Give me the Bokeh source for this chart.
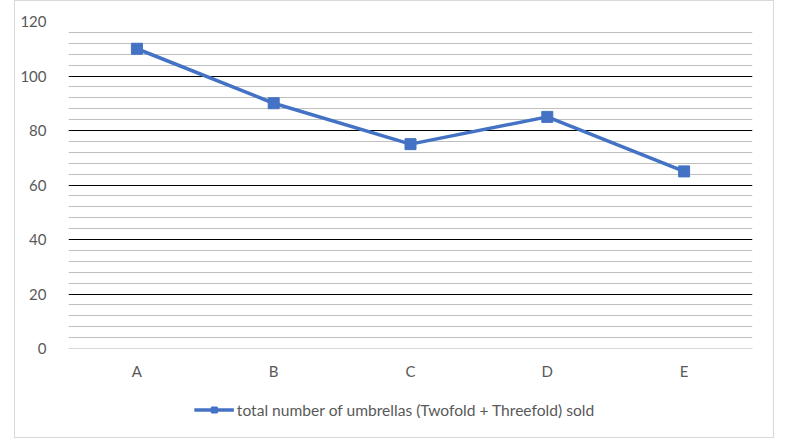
from bokeh.plotting import figure
from bokeh.layouts import column
from bokeh.models import FixedTicker, Range1d, FactorRange, Legend, LegendItem, ColumnDataSource
from bokeh.embed import file_html
from bokeh.resources import INLINE

categories = ["A", "B", "C", "D", "E"]
values = [110, 90, 75, 85, 65]
y_ticks = [0, 20, 40, 60, 80, 100, 120]
series_name = "total number of umbrellas (Twofold + Threefold) sold"

FONT = "Lato"
TXT = "#595959"
BLUE = "#4472C4"

src = ColumnDataSource(dict(x=categories, y=values))

p = figure(frame_width=684, frame_height=327, x_range=FactorRange(*categories), y_range=Range1d(0, 120),
           output_backend="svg", toolbar_location=None,
           min_border_left=53, min_border_right=21, min_border_top=20, min_border_bottom=0)
p.outline_line_color = None

p.line("x", "y", source=src, line_color=BLUE, line_width=3.5)
p.scatter("x", "y", source=src, marker="square", size=11, fill_color=BLUE, line_color=BLUE)

p.yaxis.ticker = FixedTicker(ticks=y_ticks)
p.yaxis.axis_line_color = None
p.yaxis.major_tick_line_color = None
p.yaxis.minor_tick_line_color = None
p.yaxis.major_label_standoff = 16
p.yaxis.major_label_text_font = FONT
p.yaxis.major_label_text_font_size = "15px"
p.yaxis.major_label_text_color = TXT

p.xaxis.axis_line_color = "#d9d9d9"
p.xaxis.major_tick_line_color = None
p.xaxis.minor_tick_line_color = None
p.xaxis.major_label_standoff = 7
p.xaxis.major_label_text_font = FONT
p.xaxis.major_label_text_font_size = "15px"
p.xaxis.major_label_text_color = TXT

p.xgrid.grid_line_color = None
minor = [v for v in range(4, 120, 4) if v % 20 != 0]
p.ygrid.ticker = FixedTicker(ticks=y_ticks[1:], minor_ticks=minor)
p.ygrid.grid_line_color = "#000000"
p.ygrid.grid_line_width = 1
p.ygrid.minor_grid_line_color = "#bfbfbf"
p.ygrid.minor_grid_line_width = 1

# legend strip: same series drawn outside its visible range, only its legend shows
p2 = figure(frame_width=758, frame_height=55, x_range=FactorRange(*categories), y_range=Range1d(1000, 1001),
            output_backend="svg", toolbar_location=None, x_axis_location=None, y_axis_location=None,
            min_border=0)
p2.outline_line_color = None
p2.grid.grid_line_color = None
l2 = p2.line("x", "y", source=src, line_color=BLUE, line_width=3.5)
m2 = p2.scatter("x", "y", source=src, marker="square", size=11, fill_color=BLUE, line_color=BLUE)

legend = Legend(items=[LegendItem(label=series_name, renderers=[l2, m2])],
                orientation="horizontal", location="center",
                label_text_font=FONT, label_text_font_size="15.6px", label_text_color=TXT,
                glyph_width=40, glyph_height=15, label_standoff=3, label_height=15,
                border_line_color=None, background_fill_alpha=0, padding=2, margin=0)
p2.add_layout(legend, "center")

layout = column(p, p2, spacing=0)
layout.styles = {"border": "1px solid #d9d9d9", "margin-left": "14px", "margin-top": "0px"}

open("out.html", "w").write(file_html(layout, INLINE))
